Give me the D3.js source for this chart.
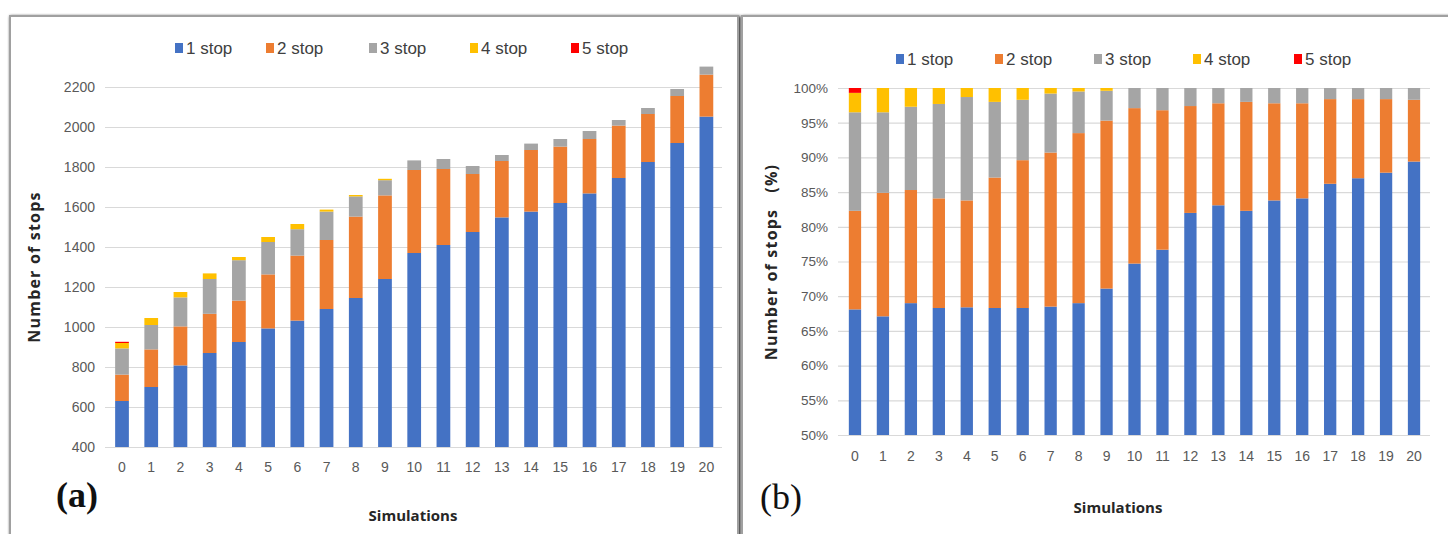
<!DOCTYPE html>
<html>
<head>
<meta charset="utf-8">
<script src="https://cdn.jsdelivr.net/npm/d3@7/dist/d3.min.js"></script>
<style>
  html, body { margin: 0; padding: 0; background: #ffffff; }
  svg { display: block; }
  .tick text { fill: #595959; }
</style>
</head>
<body>
<svg id="fig" width="1448" height="534"></svg>
<script>
// Simulation runs on the x axis
const simulations = ["0","1","2","3","4","5","6","7","8","9","10","11","12","13","14","15","16","17","18","19","20"];
const seriesNames = ["1 stop", "2 stop", "3 stop", "4 stop", "5 stop"];
const seriesColors = ["#4472C4", "#ED7D31", "#A5A5A5", "#FFC000", "#FF0000"];

// (a) number of stops per run, by stop count
const stops1 = [630, 700, 808, 870, 925, 993, 1032, 1090, 1145, 1240, 1370, 1410, 1475, 1548, 1577, 1620, 1668, 1745, 1825, 1920, 2052];
const stops2 = [132, 188, 195, 196, 207, 270, 325, 345, 407, 418, 415, 380, 290, 282, 308, 282, 272, 262, 240, 235, 210];
const stops3 = [131, 122, 145, 174, 202, 162, 132, 142, 101, 76, 48, 50, 40, 30, 32, 38, 40, 28, 30, 35, 40];
const stops4 = [27, 35, 27, 28, 16, 25, 26, 10, 7, 7, 0, 0, 0, 0, 0, 0, 0, 0, 0, 0, 0];
const stops5 = [6, 0, 0, 0, 0, 0, 0, 0, 0, 0, 0, 0, 0, 0, 0, 0, 0, 0, 0, 0, 0];
const countTicks = [400, 600, 800, 1000, 1200, 1400, 1600, 1800, 2000, 2200];

// (b) share of stops per run (%)
const share1 = [68.1, 67.1, 69.0, 68.3, 68.4, 68.3, 68.3, 68.5, 69.0, 71.1, 74.7, 76.7, 82.0, 83.1, 82.3, 83.8, 84.1, 86.2, 87.0, 87.8, 89.4];
const share2 = [14.2, 17.8, 16.3, 15.8, 15.4, 18.8, 21.3, 22.2, 24.5, 24.2, 22.4, 20.1, 15.4, 14.7, 15.7, 14.0, 13.7, 12.2, 11.4, 10.6, 8.9];
const share3 = [14.2, 11.6, 12.0, 13.6, 14.9, 10.9, 8.7, 8.5, 6.0, 4.3, 2.9, 3.2, 2.6, 2.2, 2.0, 2.2, 2.2, 1.6, 1.6, 1.6, 1.7];
const share4 = [2.8, 3.5, 2.7, 2.3, 1.3, 2.0, 1.7, 0.8, 0.5, 0.4, 0, 0, 0, 0, 0, 0, 0, 0, 0, 0, 0];
const share5 = [0.7, 0, 0, 0, 0, 0, 0, 0, 0, 0, 0, 0, 0, 0, 0, 0, 0, 0, 0, 0, 0];
const shareTicks = [50, 55, 60, 65, 70, 75, 80, 85, 90, 95, 100];

const svg = d3.select("#fig");
const tickFont = "'Liberation Sans', Arial, sans-serif";
const titleFont = "'Open Sans', 'DejaVu Sans', sans-serif";

// soft drop shadow for the panel frames
const defs = svg.append("defs");
const shadow = defs.append("filter").attr("id", "frameShadow")
  .attr("x", "-5%").attr("y", "-5%").attr("width", "110%").attr("height", "110%");
shadow.append("feGaussianBlur").attr("in", "SourceAlpha").attr("stdDeviation", 1.5).attr("result", "blur");
shadow.append("feOffset").attr("dx", 1).attr("dy", 1).attr("result", "off");
const merge = shadow.append("feMerge");
merge.append("feMergeNode").attr("in", "off");
merge.append("feMergeNode").attr("in", "SourceGraphic");

function buildRows(arrays) {
  return simulations.map((s, i) => {
    const row = { sim: s };
    seriesNames.forEach((n, k) => { row[n] = arrays[k][i]; });
    return row;
  });
}

function drawPanel(p) {
  const g = svg.append("g");

  // frame
  g.append("rect")
    .attr("x", p.frame[0]).attr("y", p.frame[1])
    .attr("width", p.frame[2]).attr("height", p.frame[3])
    .attr("fill", "#ffffff").attr("stroke", "#a0a0a0").attr("stroke-width", 2)
    .attr("filter", "url(#frameShadow)");

  const x = d3.scaleBand().domain(simulations)
    .range(p.xRange).paddingInner(p.padIn).paddingOuter(p.padIn / 2);
  const y = d3.scaleLinear().domain(p.yDomain).range(p.yRange);

  // horizontal gridlines + y tick labels
  const yAxis = d3.axisLeft(y).tickValues(p.yTicks).tickFormat(p.yFormat)
    .tickSize(-(p.gridRight - p.gridLeft)).tickPadding(p.yPad);
  const ya = g.append("g").attr("transform", `translate(${p.gridLeft},0)`).call(yAxis);
  ya.select(".domain").remove();
  ya.selectAll(".tick line").attr("stroke", "#d9d9d9").attr("stroke-width", 1.2);
  ya.selectAll(".tick text").attr("font-family", tickFont).attr("font-size", p.yFont)
    .attr("fill", "#595959");

  // stacked bars, stacked above the axis baseline
  const rows = buildRows(p.series);
  const stacked = d3.stack().keys(seriesNames)(rows);
  const base = p.yDomain[0];
  g.append("g").selectAll("g").data(stacked).join("g")
    .attr("fill", (d, k) => seriesColors[k])
    .selectAll("rect").data(d => d).join("rect")
      .attr("x", d => x(d.data.sim))
      .attr("width", x.bandwidth())
      .attr("y", d => y(d[1] + base))
      .attr("height", d => Math.max(0, y(d[0] + base) - y(d[1] + base)));

  // x tick labels
  const xAxis = d3.axisBottom(x).tickSize(0).tickPadding(p.xPad);
  const xa = g.append("g").attr("transform", `translate(0,${p.yRange[0]})`).call(xAxis);
  xa.select(".domain").remove();
  xa.selectAll(".tick text").attr("font-family", tickFont).attr("font-size", 14)
    .attr("fill", "#404040");

  // legend
  const lg = g.append("g").attr("transform", `translate(0,${p.legendY})`);
  seriesNames.forEach((n, k) => {
    const lx = p.legendX[k];
    lg.append("rect").attr("x", lx).attr("y", -5).attr("width", 8).attr("height", 10)
      .attr("fill", seriesColors[k]);
    lg.append("text").attr("x", lx + 11).attr("y", 0).attr("dy", "0.35em")
      .attr("font-family", tickFont).attr("font-size", 17).attr("fill", "#404040")
      .text(n);
  });

  // axis titles
  g.append("text")
    .attr("transform", `translate(${p.yTitleX},${p.yTitleY}) rotate(-90)`)
    .attr("text-anchor", "middle").attr("font-family", titleFont)
    .attr("font-weight", "bold").attr("font-size", 16).attr("letter-spacing", 1.2)
    .attr("fill", "#262626")
    .attr("xml:space", "preserve")
    .text(p.yTitle);
  g.append("text")
    .attr("x", p.xTitleX).attr("y", p.xTitleY).attr("text-anchor", "middle")
    .attr("font-family", titleFont).attr("font-weight", "bold").attr("font-size", 15)
    .attr("fill", "#262626").text("Simulations");

  // panel tag
  g.append("text")
    .attr("x", p.tagX).attr("y", p.tagY)
    .attr("font-family", "'Liberation Serif', 'DejaVu Serif', serif")
    .attr("font-weight", p.tagWeight).attr("font-size", 36).attr("fill", "#111111")
    .text(p.tag);
}

drawPanel({
  frame: [10, 16, 728, 530],
  xRange: [107.4, 721],
  padIn: 0.53,
  yDomain: [400, 2200],
  yRange: [447, 87],
  yTicks: countTicks,
  yFormat: d => d,
  yFont: 14,
  yPad: 10,
  gridLeft: 105,
  gridRight: 722,
  series: [stops1.map(v => v - 400), stops2, stops3, stops4, stops5],
  xPad: 15,
  legendY: 48,
  legendX: [175, 266, 369, 470, 571],
  yTitleX: 40, yTitleY: 267,
  yTitle: "Number of stops",
  xTitleX: 413, xTitleY: 521,
  tag: "(a)", tagX: 56, tagY: 507, tagWeight: "bold"
});

drawPanel({
  frame: [742, 16, 716, 530],
  xRange: [841, 1428],
  padIn: 0.56,
  yDomain: [50, 100],
  yRange: [435, 88],
  yTicks: shareTicks,
  yFormat: d => d + "%",
  yFont: 13.5,
  yPad: 10,
  gridLeft: 838,
  gridRight: 1430,
  series: [share1.map(v => v - 50), share2, share3, share4, share5],
  xPad: 16,
  legendY: 59,
  legendX: [896, 995, 1094, 1193, 1294],
  yTitleX: 777, yTitleY: 262,
  yTitle: "Number of stops   (%)",
  xTitleX: 1118, xTitleY: 513,
  tag: "(b)", tagX: 760, tagY: 509, tagWeight: "normal"
});
</script>
</body>
</html>
